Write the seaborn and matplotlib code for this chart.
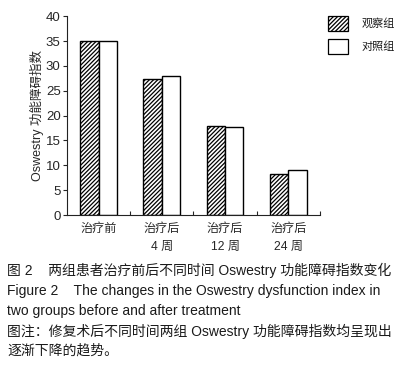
import pandas as pd
import numpy as np
import matplotlib
matplotlib.use('Agg')
import matplotlib.pyplot as plt
from matplotlib.patches import Patch
import seaborn as sns

# values
times = ['治疗前', '治疗后\n4 周', '治疗后\n12 周', '治疗后\n24 周']
observe = [35.0, 27.4, 18.0, 8.2]
control = [35.0, 27.9, 17.8, 9.0]
groups = ['观察组', '对照组']
yticks = [0, 5, 10, 15, 20, 25, 30, 35, 40]

caption = ['图 2    两组患者治疗前后不同时间 Oswestry 功能障碍指数变化',
           'Figure 2    The changes in the Oswestry dysfunction index in',
           'two groups before and after treatment',
           '图注：修复术后不同时间两组 Oswestry 功能障碍指数均呈现出',
           '逐渐下降的趋势。']

df = pd.DataFrame({'time': times * 2,
                   'value': observe + control,
                   'group': [groups[0]] * 4 + [groups[1]] * 4})

sns.set_style('ticks')
plt.rcParams['font.family'] = ['Liberation Sans', 'Noto Sans CJK SC']
plt.rcParams['hatch.linewidth'] = 0.9
plt.rcParams['text.color'] = '#1a1a1a'

fig = plt.figure(figsize=(4.08, 3.76), dpi=100)
ax = fig.add_axes([0.164, 0.428, 0.620, 0.529])

sns.barplot(data=df, x='time', y='value', hue='group', order=times, hue_order=groups,
            palette=['white', 'white'], edgecolor='black', linewidth=1.0,
            width=0.58, gap=0, errorbar=None, legend=False, ax=ax, saturation=1)

for bar in ax.containers[0]:
    bar.set_hatch('////////')

ax.set_xlim(-0.5, 3.5)
ax.set_ylim(0, 40)
ax.set_yticks(yticks)
ax.set_xlabel('')
ax.set_ylabel('Oswestry 功能障碍指数', fontsize=9, labelpad=1)
sns.despine(ax=ax)
for s in ['left', 'bottom']:
    ax.spines[s].set_linewidth(0.8)
    ax.spines[s].set_color('#222222')

ax.tick_params(axis='y', direction='out', length=3, width=0.8, labelsize=9.5, pad=1.5)
ax.tick_params(axis='x', which='major', length=0, labelsize=8.7, pad=6)
ax.set_xticks([0.5, 1.5, 2.5, 3.5], minor=True)
ax.tick_params(axis='x', which='minor', direction='in', length=3, width=0.8)
for lab in ax.get_xticklabels():
    lab.set_linespacing(1.6)
    lab.set_verticalalignment('top')

handles = [Patch(facecolor='white', edgecolor='black', hatch='////////', linewidth=0.9),
           Patch(facecolor='white', edgecolor='black', linewidth=0.9)]
fig.legend(handles, groups, loc='upper left', bbox_to_anchor=(328 / 408, 1 - 16 / 376),
           frameon=False, fontsize=8, handlelength=1.8, handleheight=1.7,
           handletextpad=1.25, labelspacing=0.75, borderpad=0, borderaxespad=0)

ys = [270, 291, 311, 331, 351]
for t, y in zip(caption, ys):
    fig.text(7 / 408, 1 - y / 376, t, fontsize=10, va='center', ha='left')

fig.savefig('out.png', dpi=100)
